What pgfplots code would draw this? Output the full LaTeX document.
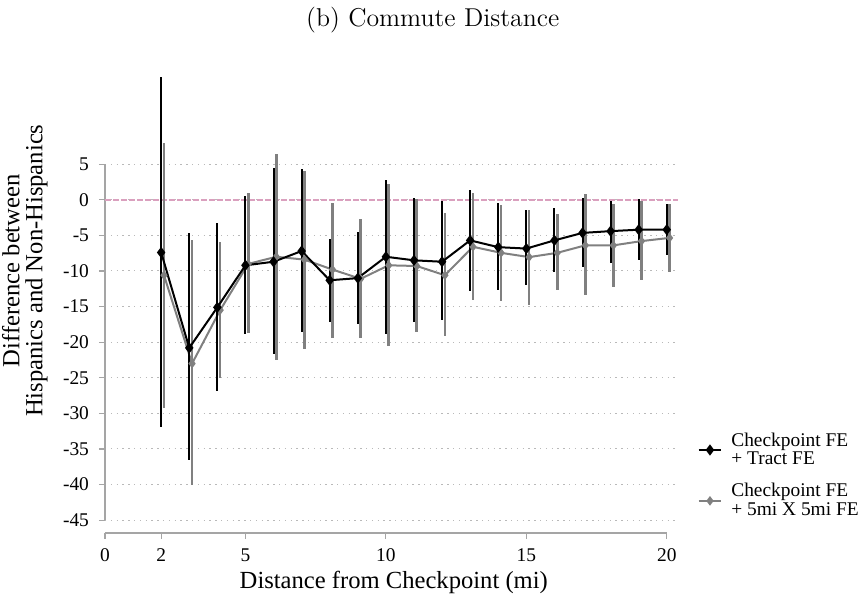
\documentclass[border=0pt]{standalone}
\usepackage{pgfplots}
\pgfplotsset{compat=1.18}
\usepackage{pgfplotstable}
\usepackage{fontspec}
\newfontfamily\tnr{Liberation Serif}
\definecolor{refpink}{RGB}{218,160,190}
\definecolor{sgray}{RGB}{128,128,128}
\definecolor{axgray}{RGB}{165,165,165}
\definecolor{gridgray}{RGB}{185,185,185}

\pgfplotstableread{
x y lo hi
2 -7.4 -31.9 17.2
3 -20.8 -36.6 -4.7
4 -15.1 -26.8 -3.3
5 -9.2 -18.8 0.6
6 -8.7 -21.7 4.4
7 -7.2 -18.6 4.3
8 -11.3 -17.1 -5.5
9 -11.0 -17.4 -4.5
10 -8.0 -18.8 2.75
11 -8.5 -17.1 0.3
12 -8.7 -16.9 -0.2
13 -5.7 -12.8 1.4
14 -6.65 -12.6 -0.5
15 -6.85 -12.0 -1.5
16 -5.7 -10.2 -1.2
17 -4.65 -9.5 0.2
18 -4.4 -8.85 -0.1
19 -4.2 -8.4 0.1
20 -4.2 -7.8 -0.6
}\tblA

\pgfplotstableread{
x y lo hi
2.1 -10.6 -29.3 8.0
3.1 -23.0 -40.1 -5.7
4.1 -15.5 -25.0 -5.9
5.1 -9.0 -18.7 1.0
6.1 -8.0 -22.5 6.5
7.1 -8.4 -20.9 4.0
8.1 -9.8 -19.4 -0.5
9.1 -11.1 -19.4 -2.7
10.1 -9.2 -20.6 2.2
11.1 -9.3 -18.6 0.1
12.1 -10.6 -19.1 -1.9
13.1 -6.6 -14.1 0.9
14.1 -7.45 -14.2 -0.7
15.1 -8.05 -14.8 -1.4
16.1 -7.45 -12.7 -2.0
17.1 -6.4 -13.4 0.75
18.1 -6.4 -12.3 -0.65
19.1 -5.8 -11.3 -0.2
20.1 -5.35 -10.1 -0.6
}\tblB

\begin{document}
\begin{tikzpicture}
\useasboundingbox (-52.5pt,-34pt) rectangle (380.5pt,266.5pt);
\begin{axis}[
  at={(0pt,0pt)}, anchor=south west,
  scale only axis,
  width=286.5pt, height=228.9pt,
  xmin=0, xmax=20.4, ymin=-46.8, ymax=17.5,
  clip=false,
  axis line style={draw=none},
  xtick pos=bottom, ytick pos=left,
  tick align=outside,
  major tick length=3pt,
  every tick/.style={axgray, line width=0.6pt},
  xtick={0,2,5,10,15,20},
  xticklabels={0,2,5,10,15,20},
  ytick={-45,-40,-35,-30,-25,-20,-15,-10,-5,0,5},
  yticklabels={-45,-40,-35,-30,-25,-20,-15,-10,-5,0,5},
  tick label style={font=\tnr\fontsize{9.7}{11}\selectfont},
  xticklabel style={yshift=-1.5pt},
  yticklabel style={xshift=-1.5pt},
  ymajorgrids,
  major grid style={gridgray, line width=0.5pt, dash pattern=on 0.7pt off 2.2pt},
  xlabel={Distance from Checkpoint (mi)},
  xlabel style={at={(axis description cs:0.504,0)}, anchor=center, yshift=-24.5pt, font=\tnr\fontsize{12.3}{14}\selectfont},
  ylabel={Difference between\\Hispanics and Non-Hispanics},
  ylabel style={at={(axis description cs:-0.14,0.573)}, anchor=center, align=center, font=\tnr\fontsize{12.3}{11.5}\selectfont},
  title={(b) Commute Distance},
  title style={at={(axis description cs:0.572,1.095)}, anchor=center, font=\fontsize{12.9}{15}\selectfont},
  legend style={at={(axis description cs:1.023,0.2377)}, anchor=north west, draw=none, fill=none,
    font=\tnr\fontsize{9.7}{9.2}\selectfont, cells={anchor=west, align=left}, row sep=4pt, column sep=2.5pt},
  legend image code/.code={\draw[mark repeat=2,mark phase=2] plot coordinates {(0cm,0cm) (0.2cm,0cm) (0.4cm,0cm)};},
]
\draw[axgray, line width=0.6pt] (axis cs:0,-45) -- (axis cs:0,5);
\draw[axgray, line width=0.6pt] (axis cs:0,-46.8) -- (axis cs:20,-46.8);
\addplot[refpink, line width=0.8pt, dash pattern=on 2.8pt off 1.2pt, forget plot] coordinates {(0,0) (20.4,0)};

\addlegendimage{black, line width=1pt, mark=diamond*, mark size=2pt}
\addlegendentry{Checkpoint FE\\+ Tract FE}
\addlegendimage{sgray, line width=1pt, mark=diamond*, mark size=1.6pt}
\addlegendentry{Checkpoint FE\\+ 5mi X 5mi FE}

\addplot[sgray, line width=1pt, mark=diamond*, mark size=1.6pt, forget plot,
  error bars/.cd, y dir=both, y explicit, error mark=none,
  error bar style={sgray, line width=1.3pt}]
  table[x=x, y=y, y error plus expr=\thisrow{hi}-\thisrow{y}, y error minus expr=\thisrow{y}-\thisrow{lo}] {\tblB};
\addplot[black, line width=1pt, mark=diamond*, mark size=2pt, forget plot,
  error bars/.cd, y dir=both, y explicit, error mark=none,
  error bar style={black, line width=1pt}]
  table[x=x, y=y, y error plus expr=\thisrow{hi}-\thisrow{y}, y error minus expr=\thisrow{y}-\thisrow{lo}] {\tblA};
\end{axis}
\end{tikzpicture}
\end{document}
